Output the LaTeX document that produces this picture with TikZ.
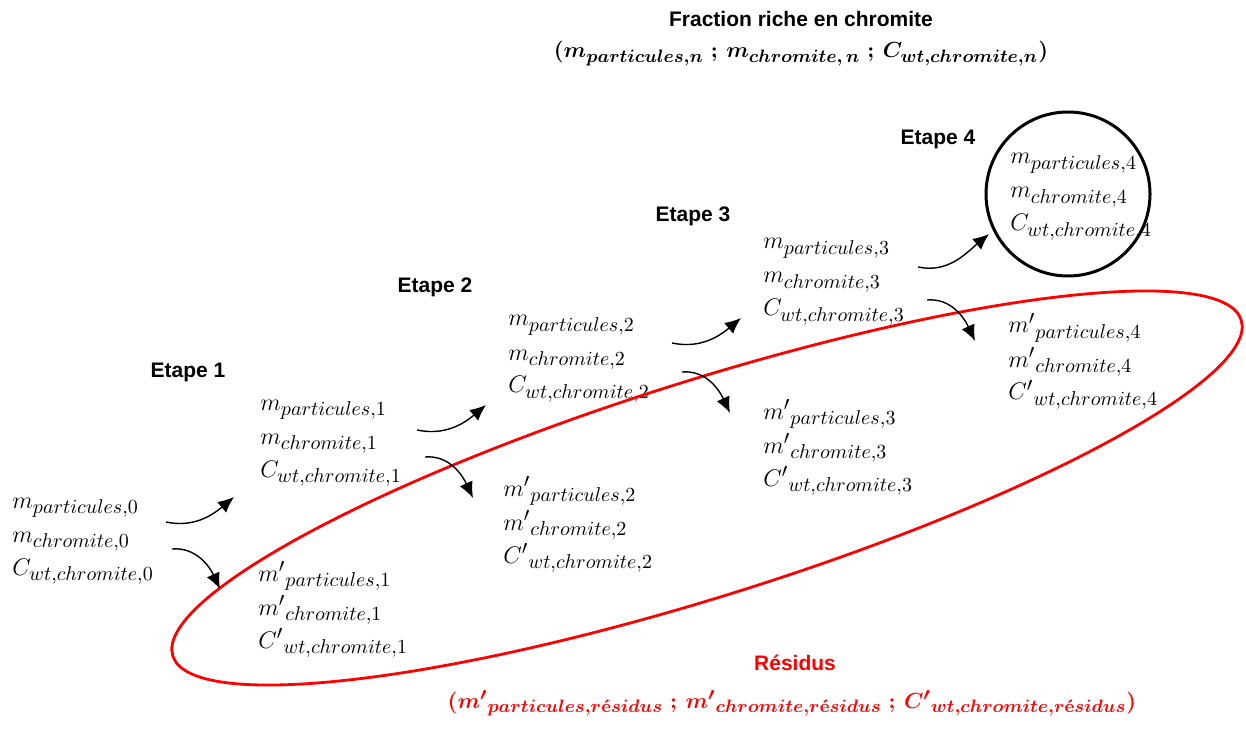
\documentclass[tikz,border=0pt]{standalone}
\usepackage{amsmath}
\usepackage{fontspec}
\setsansfont{Liberation Sans}
\usetikzlibrary{arrows.meta}
\DeclareMathSizes{12}{12}{10}{8}
\DeclareMathSizes{11}{11}{9}{7}
\newcommand{\eac}{\text{\bfseries é}}
\tikzset{
  qty/.style={anchor=base west, inner sep=0pt, font=\fontsize{12}{14}\selectfont},
  bqty/.style={anchor=base, inner sep=0pt, font=\fontsize{11}{13}\selectfont\boldmath},
  lbl/.style={anchor=base, inner sep=0pt, font=\fontsize{10.5}{12}\selectfont\sffamily\bfseries},
  flow/.style={-{Latex[length=8pt,width=7pt]}, line width=0.7pt},
}
\begin{document}
\begin{tikzpicture}[x=0.5pt,y=0.5pt]
\useasboundingbox (0,0) rectangle (1246,729);

% titles
\node[lbl] (ttop) at (801,702) {Fraction riche en chromite};
\node[bqty] (ttop2) at (801,671)
  {$(m_{particules,n}\;;\,m_{chromite,\,n}\;;\,C_{wt,chromite,n})$};
\node[lbl, text=red] (tres) at (795,59) {Résidus};
\node[bqty, text=red] (tres2) at (792,21)
  {$({m^{\prime}}_{particules,r\eac sidus}\;;\,{m^{\prime}}_{chromite,r\eac sidus}\;;\,{C^{\prime}}_{wt,chromite,r\eac sidus})$};

% etapes
\node[lbl] (e1) at (188,351) {Etape 1};
\node[lbl] (e2) at (435,437) {Etape 2};
\node[lbl] (e3) at (693,507) {Etape 3};
\node[lbl] (e4) at (938,584) {Etape 4};

% group 0
\node[qty] (p0) at (12,221) {$m_{particules,0}$};
\node[qty] (c0) at (12,187) {$m_{chromite,0}$};
\node[qty] (w0) at (12,154) {$C_{wt,chromite,0}$};
% group 1
\node[qty] (p1) at (260,319) {$m_{particules,1}$};
\node[qty] (c1) at (260,285) {$m_{chromite,1}$};
\node[qty] (w1) at (260,252) {$C_{wt,chromite,1}$};
\node[qty] (q1) at (258,148) {${m'}_{particules,1}$};
\node[qty] (r1) at (258,114) {${m'}_{chromite,1}$};
\node[qty] (s1) at (258,81) {${C'}_{wt,chromite,1}$};
% group 2
\node[qty] (p2) at (508,403) {$m_{particules,2}$};
\node[qty] (c2) at (508,369) {$m_{chromite,2}$};
\node[qty] (w2) at (508,336) {$C_{wt,chromite,2}$};
\node[qty] (q2) at (503,233) {${m'}_{particules,2}$};
\node[qty] (r2) at (503,199) {${m'}_{chromite,2}$};
\node[qty] (s2) at (503,166) {${C'}_{wt,chromite,2}$};
% group 3
\node[qty] (p3) at (763,480) {$m_{particules,3}$};
\node[qty] (c3) at (763,446) {$m_{chromite,3}$};
\node[qty] (w3) at (763,413) {$C_{wt,chromite,3}$};
\node[qty] (q3) at (763,310) {${m'}_{particules,3}$};
\node[qty] (r3) at (763,276) {${m'}_{chromite,3}$};
\node[qty] (s3) at (763,243) {${C'}_{wt,chromite,3}$};
% group 4
\node[draw, circle, line width=1.5pt, minimum size=82pt, inner sep=0pt] (circ4) at (1068,535) {};
\node[qty] (p4) at (1010,565) {$m_{particules,4}$};
\node[qty] (c4) at (1010,531) {$m_{chromite,4}$};
\node[qty] (w4) at (1010,498) {$C_{wt,chromite,4}$};
\node[qty] (q4) at (1008,396) {${m'}_{particules,4}$};
\node[qty] (r4) at (1008,362) {${m'}_{chromite,4}$};
\node[qty] (s4) at (1008,329) {${C'}_{wt,chromite,4}$};

% residue ellipse
\draw[red, line width=1.4pt] (707,241) ellipse [x radius=560, y radius=108, rotate=17.45];

% arrow end points
\coordinate (u0a) at (166,207); \coordinate (u0b) at (234,232);
\coordinate (d0a) at (172,180); \coordinate (d0b) at (220,140);
\coordinate (u1a) at (417,299); \coordinate (u1b) at (486,324);
\coordinate (d1a) at (425,272); \coordinate (d1b) at (473,231);
\coordinate (u2a) at (672,386); \coordinate (u2b) at (741,411);
\coordinate (d2a) at (682,357); \coordinate (d2b) at (730,316);
\coordinate (u3a) at (918,462); \coordinate (u3b) at (989,495);
\coordinate (d3a) at (927,429); \coordinate (d3b) at (975,388);

\foreach \k in {0,1,2,3}{
  \draw[flow] (u\k a) to[out=-12, in=220] (u\k b);
  \draw[flow] (d\k a) to[out=5, in=115] (d\k b);
}
\end{tikzpicture}
\end{document}
